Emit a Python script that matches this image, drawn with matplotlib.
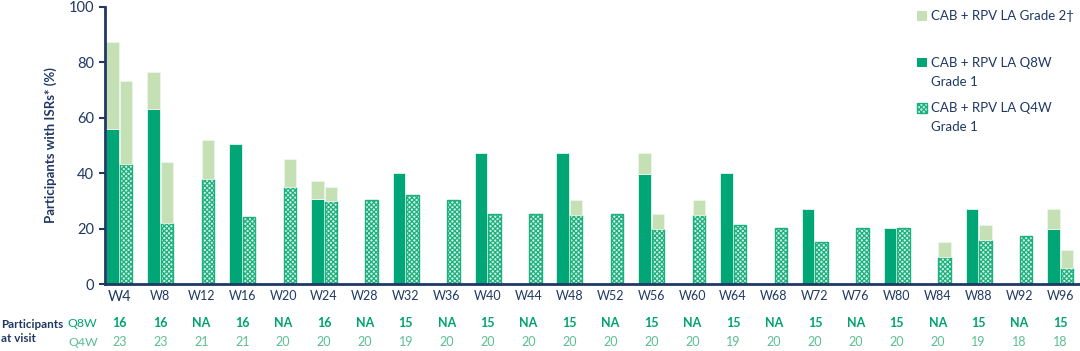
import numpy as np
import matplotlib
matplotlib.use("Agg")
import matplotlib.pyplot as plt
from matplotlib.patches import Rectangle
from matplotlib.transforms import blended_transform_factory

plt.rcParams['font.family'] = ['Lato', 'DejaVu Sans']
plt.rcParams['hatch.linewidth'] = 0.9

weeks = ["W4", "W8", "W12", "W16", "W20", "W24", "W28", "W32", "W36", "W40", "W44", "W48",
         "W52", "W56", "W60", "W64", "W68", "W72", "W76", "W80", "W84", "W88", "W92", "W96"]
nan = np.nan
q8w_g1 = [55.8, 63, nan, 50.4, nan, 30.8, nan, 40.2, nan, 47.4, nan, 47.4,
          nan, 39.8, nan, 40.2, nan, 27.1, nan, 20.1, nan, 27, nan, 20]
q8w_total = [87.1, 76.3, nan, 50.4, nan, 37.1, nan, 40.2, nan, 47.4, nan, 47.4,
             nan, 47.4, nan, 40.2, nan, 27.1, nan, 20.1, nan, 27, nan, 27]
q4w_g1 = [43.2, 22.1, 38, 24.2, 34.9, 30, 30.4, 32.1, 30.4, 25.3, 25.3, 24.9,
          25.3, 20, 24.9, 21.3, 20.2, 15, 20.2, 20.2, 9.7, 15.9, 17.3, 5.7]
q4w_total = [73.1, 44.1, 52, 24.2, 45.1, 35, 30.4, 32.1, 30.4, 25.3, 25.3, 30.4,
             25.3, 25.3, 30.4, 21.3, 20.2, 15, 20.2, 20.2, 15.2, 21.3, 17.3, 12.3]
n_q8w = ["16", "16", "NA", "16", "NA", "16", "NA", "15", "NA", "15", "NA", "15",
         "NA", "15", "NA", "15", "NA", "15", "NA", "15", "NA", "15", "NA", "15"]
n_q4w = ["23", "23", "21", "21", "20", "20", "20", "19", "20", "20", "20", "20",
         "20", "20", "20", "19", "20", "20", "20", "20", "20", "19", "18", "18"]

NAVY = '#1F3864'
DKGREEN = '#00A676'
LTGREEN = '#C5E0B4'
HATCHGREEN = '#1DB07F'
HATCHFACE = '#D2F1E3'
TXT8 = '#00A36C'
TXT4 = '#5BBE92'

fig = plt.figure(figsize=(10.8, 3.51), dpi=100)
ax = fig.add_axes([105/1080, 1-284/351, 975/1080, (284-6.7)/351])

x = np.arange(len(weeks))
w = 0.305
off = 0.165
q8g1 = np.array(q8w_g1); q8t = np.array(q8w_total)
q4g1 = np.array(q4w_g1); q4t = np.array(q4w_total)
q8g2 = np.where(q8t - q8g1 > 0, q8t - q8g1, np.nan)
q4g2 = np.where(q4t - q4g1 > 0, q4t - q4g1, np.nan)

ax.bar(x - off, q8g1, width=w, color=DKGREEN, edgecolor='#E8F5EE', linewidth=0.6, zorder=2)
ax.bar(x - off, q8g2, bottom=q8g1, width=w, color=LTGREEN, edgecolor='#EEF7EA', linewidth=0.6, zorder=2)
ax.bar(x + off, q4g1, width=w, color=HATCHFACE, edgecolor=HATCHGREEN, hatch='xxxxxxx', linewidth=1.0, zorder=2)
ax.bar(x + off, q4g2, bottom=q4g1, width=w, color=LTGREEN, edgecolor='#EEF7EA', linewidth=0.6, zorder=2)

ax.set_xlim(-0.354, 23.48)
ax.set_ylim(0, 100)
ax.set_yticks([0, 20, 40, 60, 80, 100])
ax.tick_params(axis='y', colors=NAVY, labelsize=10.5, length=4, width=1.5, pad=4)
for lab in ax.get_yticklabels():
    lab.set_color(NAVY)
ax.set_xticks(x)
ax.set_xticklabels(weeks)
ax.tick_params(axis='x', length=0, pad=4.5, labelsize=9, labelcolor=NAVY)
xl = ax.get_xticklabels()
xl[0].set_fontsize(10.5)
for s in ['top', 'right']:
    ax.spines[s].set_visible(False)
for s in ['left', 'bottom']:
    ax.spines[s].set_color(NAVY)
    ax.spines[s].set_linewidth(2)
ax.set_ylabel("Participants with ISRs* (%)", color=NAVY, fontsize=9.5, fontweight='bold', labelpad=8)

trans = blended_transform_factory(ax.transData, fig.transFigure)
for i in range(len(weeks)):
    ax.text(x[i], 1-327/351, n_q8w[i], transform=trans, ha='center', va='baseline',
            color=TXT8, fontsize=9, fontweight='bold', clip_on=False)
    ax.text(x[i], 1-346/351, n_q4w[i], transform=trans, ha='center', va='baseline',
            color=TXT4, fontsize=9, clip_on=False)
fig.text(82/1080, 1-327/351, "Q8W", ha='center', va='baseline', color=TXT8, fontsize=8.8)
fig.text(83/1080, 1-346/351, "Q4W", ha='center', va='baseline', color=TXT4, fontsize=8.8)
fig.text(1/1080, 1-328/351, "Participants", ha='left', va='baseline', color=NAVY, fontsize=8.4, fontweight='bold')
fig.text(1/1080, 1-342/351, "at visit", ha='left', va='baseline', color=NAVY, fontsize=8.4, fontweight='bold')

# legend
sq = 9.5
def legend_patch(yc, **kw):
    r = Rectangle((917/1080, 1-(yc+sq/2)/351), sq/1080, sq/351, transform=fig.transFigure, **kw)
    fig.add_artist(r)
legend_patch(16, facecolor=LTGREEN, edgecolor='none')
legend_patch(62.5, facecolor=DKGREEN, edgecolor='none')
legend_patch(108, facecolor=HATCHFACE, edgecolor=HATCHGREEN, hatch='xxxxxxx', linewidth=1.0)
lx = 931/1080
fs = 9.5
fig.text(lx, 1-20/351, "CAB + RPV LA Grade 2\u2020", ha='left', va='baseline', color=NAVY, fontsize=fs)
fig.text(lx, 1-67/351, "CAB + RPV LA Q8W", ha='left', va='baseline', color=NAVY, fontsize=fs)
fig.text(lx, 1-85.5/351, "Grade 1", ha='left', va='baseline', color=NAVY, fontsize=fs)
fig.text(lx, 1-112.5/351, "CAB + RPV LA Q4W", ha='left', va='baseline', color=NAVY, fontsize=fs)
fig.text(lx, 1-131/351, "Grade 1", ha='left', va='baseline', color=NAVY, fontsize=fs)

fig.savefig("out.png", dpi=100)
